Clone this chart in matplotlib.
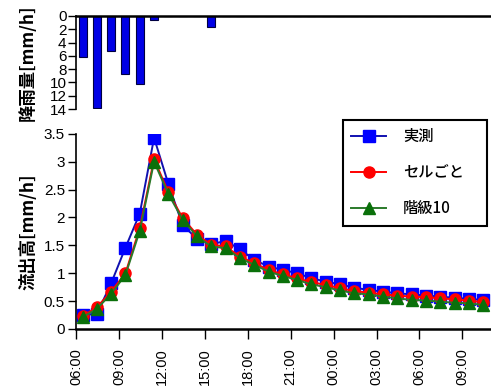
import matplotlib
matplotlib.use("Agg")
import matplotlib.pyplot as plt

plt.rcParams['font.family'] = ['Liberation Sans', 'Noto Sans CJK JP', 'DejaVu Sans']

# hours after 06:00 for each hourly record
hours = [0.45, 1.45, 2.45, 3.45, 4.45, 5.45, 6.45, 7.45, 8.45, 9.45,
         10.45, 11.45, 12.45, 13.45, 14.45, 15.45, 16.45, 17.45, 18.45, 19.45,
         20.45, 21.45, 22.45, 23.45, 24.45, 25.45, 26.45, 27.45, 28.45]

rain = [6.2, 13.8, 5.2, 8.7, 10.2, 0.6, 0, 0, 0, 1.6,
        0, 0, 0, 0, 0, 0, 0, 0, 0, 0,
        0, 0, 0, 0, 0, 0, 0, 0, 0]

observed = [0.25, 0.27, 0.82, 1.46, 2.07, 3.43, 2.60, 1.86, 1.62, 1.52,
            1.58, 1.43, 1.24, 1.12, 1.06, 1.00, 0.91, 0.85, 0.80, 0.74,
            0.70, 0.67, 0.64, 0.62, 0.60, 0.58, 0.56, 0.54, 0.52]
cell = [0.23, 0.39, 0.67, 1.00, 1.81, 3.05, 2.45, 1.99, 1.69, 1.51,
        1.48, 1.30, 1.18, 1.06, 0.98, 0.91, 0.84, 0.79, 0.73, 0.68,
        0.65, 0.62, 0.60, 0.58, 0.57, 0.55, 0.53, 0.51, 0.48]
class10 = [0.21, 0.36, 0.63, 0.97, 1.76, 3.00, 2.42, 1.96, 1.66, 1.48,
           1.45, 1.27, 1.15, 1.03, 0.95, 0.88, 0.80, 0.75, 0.69, 0.64,
           0.62, 0.58, 0.55, 0.52, 0.51, 0.49, 0.47, 0.46, 0.43]

tick_hours = [0, 3, 6, 9, 12, 15, 18, 21, 24, 27]
tick_labels = ["06:00", "09:00", "12:00", "15:00", "18:00", "21:00",
               "00:00", "03:00", "06:00", "09:00"]

fig = plt.figure(figsize=(4.91, 3.87), dpi=100)
ax_rain = fig.add_axes([0.155, 0.718, 0.845, 0.241])
ax_flow = fig.add_axes([0.155, 0.150, 0.845, 0.504])

# rainfall (hanging bars)
ax_rain.bar(hours, rain, width=0.56, color='#0000e6', edgecolor='#000040', linewidth=0.8)
ax_rain.set_xlim(0, 29)
ax_rain.set_ylim(14, 0)
ax_rain.set_yticks([0, 2, 4, 6, 8, 10, 12, 14])
ax_rain.set_xticks([])
for s in ['bottom', 'right']:
    ax_rain.spines[s].set_visible(False)
ax_rain.spines['top'].set_linewidth(1.8)
ax_rain.spines['left'].set_linewidth(1.2)
ax_rain.tick_params(axis='y', direction='out', length=6, width=1, labelsize=11, pad=1)
ax_rain.set_ylabel("降雨量[mm/h]", family=['Noto Sans CJK JP'], fontsize=12.5, fontweight='bold')
ax_rain.yaxis.set_label_coords(-0.094, 0.5)

# runoff
ax_flow.plot(hours, observed, color='#1010b0', marker='s', markersize=8.5,
             markerfacecolor='#0000ff', markeredgecolor='#0000ff', linewidth=1.4, label='実測')
ax_flow.plot(hours, cell, color='#ff0000', marker='o', markersize=8,
             markerfacecolor='#ff0000', markeredgecolor='#ff0000', linewidth=1.4, label='セルごと')
ax_flow.plot(hours, class10, color='#2a7a2a', marker='^', markersize=8,
             markerfacecolor='#0a700a', markeredgecolor='#0a700a', linewidth=1.4, label='階級10')
ax_flow.set_xlim(0, 29)
ax_flow.set_ylim(0, 3.5)
ax_flow.set_yticks([0, 0.5, 1, 1.5, 2, 2.5, 3, 3.5])
ax_flow.set_yticklabels(["0", "0.5", "1", "1.5", "2", "2.5", "3", "3.5"])
ax_flow.set_xticks(tick_hours)
ax_flow.set_xticklabels(tick_labels, rotation=90)
for s in ['top', 'right']:
    ax_flow.spines[s].set_visible(False)
ax_flow.spines['bottom'].set_linewidth(1.8)
ax_flow.spines['left'].set_linewidth(1.2)
ax_flow.tick_params(axis='y', direction='out', length=6, width=1, labelsize=11, pad=2)
ax_flow.tick_params(axis='x', direction='out', length=7, width=1, labelsize=10.5, pad=7)
ax_flow.set_ylabel("流出高[mm/h]", family=['Noto Sans CJK JP'], fontsize=12.5, fontweight='bold')
ax_flow.yaxis.set_label_coords(-0.094, 0.5)

leg = ax_flow.legend(loc='upper left', bbox_to_anchor=(0.643, 0.5, 0.347, 0.572), mode='expand',
                     alignment='center', fancybox=False, framealpha=1, edgecolor='black',
                     labelspacing=1.25, handlelength=2.3, handletextpad=1.1, borderpad=0.55,
                     borderaxespad=0,
                     prop={'family': ['Noto Sans CJK JP'], 'size': 11, 'weight': 'medium'})
leg.get_frame().set_linewidth(1.5)

fig.savefig("out.png", dpi=100)
